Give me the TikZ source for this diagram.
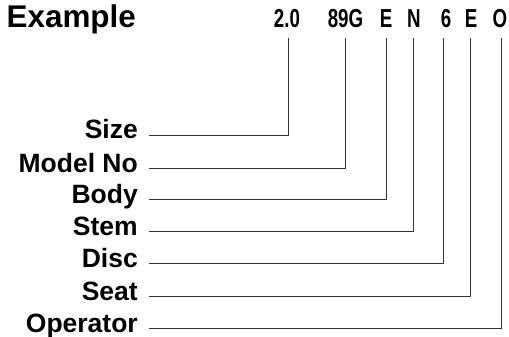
\documentclass[tikz,border=0pt]{standalone}
\usepackage{fontspec}
\setmainfont{Liberation Sans}
\newfontfamily\condfont[FakeStretch=0.72]{Liberation Sans}
\begin{document}
\begin{tikzpicture}[x=1pt,y=1pt,
  title/.style={inner sep=0pt,anchor=base west,font=\fontsize{31.4}{34}\selectfont\bfseries},
  code/.style={inner sep=0pt,anchor=base,font=\condfont\fontsize{26}{28}\selectfont\bfseries},
  lab/.style={inner sep=0pt,anchor=base east,font=\fontsize{26.5}{28}\selectfont\bfseries},
  conn/.style={draw=black!80,line width=1pt}]
\useasboundingbox (0,0) rectangle (509,-337);
\node[title] (ex) at (6.5,-28) {Example};
\node[code] (c1) at (287,-27.5) {2.0};
\node[code] (c2) at (345.5,-27.5) {89G};
\node[code] (c3) at (386,-27.5) {E};
\node[code] (c4) at (414,-27.5) {N};
\node[code] (c5) at (446,-27.5) {6};
\node[code] (c6) at (471,-27.5) {E};
\node[code] (c7) at (500,-27.5) {O};
\node[lab] (l1) at (138,-139) {Size};
\node[lab] (l2) at (138,-172) {Model No};
\node[lab] (l3) at (138,-203) {Body};
\node[lab] (l4) at (138,-235) {Stem};
\node[lab] (l5) at (138,-267) {Disc};
\node[lab] (l6) at (138,-300) {Seat};
\node[lab] (l7) at (138,-332) {Operator};
\coordinate (t1) at (288,-38);
\coordinate (t2) at (345,-38);
\coordinate (t3) at (386,-38);
\coordinate (t4) at (413,-38);
\coordinate (t5) at (443,-38);
\coordinate (t6) at (470,-38);
\coordinate (t7) at (501,-38);
\foreach \i in {1,...,7}{
  \draw[conn] ([xshift=11pt,yshift=4pt]l\i.base east) -| (t\i);
}
\end{tikzpicture}
\end{document}
